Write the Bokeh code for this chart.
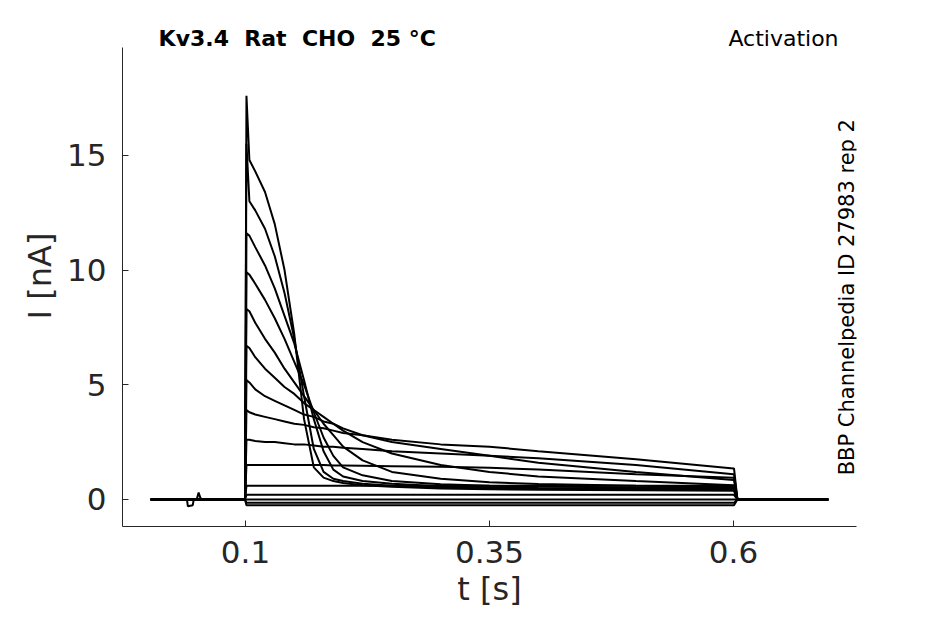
import math
from bokeh.plotting import figure
from bokeh.models import Label, FixedTicker
from bokeh.embed import file_html
from bokeh.resources import INLINE

# shared time grid of the sweeps [s]
t_grid = [0.003, 0.0995, 0.101, 0.104, 0.11, 0.12, 0.13, 0.14, 0.15, 0.16, 0.17, 0.18,
          0.19, 0.2, 0.22, 0.25, 0.3, 0.35, 0.4, 0.5, 0.6, 0.6005, 0.604, 0.697]

# holding segment with the small artefact before the step
hold_t = [0.003, 0.040, 0.041, 0.046, 0.047, 0.050, 0.052, 0.0535, 0.055, 0.0995]
hold_i = [0.0, 0.0, -0.3, -0.25, 0.0, 0.0, 0.3, 0.1, 0.0, 0.0]

# current [nA] of each sweep at t_grid
sweeps = [
    [0, 0, 17.6, 14.8, 14.3, 13.4, 12.0, 10.0, 7.2, 3.5, 1.4, 0.95, 0.8, 0.72, 0.62, 0.55, 0.48, 0.44, 0.42, 0.4, 0.38, 0.38, 0, 0],
    [0, 0, 15.5, 13.0, 12.6, 11.8, 10.6, 9.0, 7.0, 4.5, 2.2, 1.2, 0.9, 0.8, 0.68, 0.6, 0.52, 0.48, 0.46, 0.44, 0.42, 0.42, 0, 0],
    [0, 0, 11.6, 11.5, 11.0, 10.2, 9.2, 8.0, 6.8, 5.2, 3.5, 2.1, 1.3, 1.0, 0.8, 0.68, 0.58, 0.53, 0.5, 0.47, 0.45, 0.45, 0, 0],
    [0, 0, 9.9, 9.8, 9.4, 8.7, 7.9, 7.0, 6.0, 5.0, 3.8, 2.7, 1.9, 1.4, 1.05, 0.8, 0.66, 0.6, 0.56, 0.52, 0.5, 0.5, 0, 0],
    [0, 0, 8.3, 8.2, 7.7, 7.0, 6.4, 5.7, 5.1, 4.5, 3.9, 3.3, 2.8, 2.3, 1.7, 1.2, 0.9, 0.75, 0.67, 0.6, 0.55, 0.55, 0, 0],
    [0, 0, 6.7, 6.6, 6.2, 5.7, 5.3, 4.9, 4.6, 4.2, 3.9, 3.6, 3.3, 3.0, 2.5, 2.0, 1.5, 1.2, 1.0, 0.8, 0.62, 0.62, 0, 0],
    [0, 0, 5.2, 5.1, 4.8, 4.5, 4.3, 4.1, 3.9, 3.7, 3.6, 3.4, 3.3, 3.1, 2.8, 2.5, 2.2, 1.9, 1.6, 1.2, 0.85, 0.85, 0, 0],
    [0, 0, 3.9, 3.8, 3.7, 3.6, 3.5, 3.4, 3.3, 3.25, 3.15, 3.1, 3.0, 2.9, 2.8, 2.6, 2.4, 2.3, 2.1, 1.75, 1.35, 1.35, 0, 0],
    [0, 0, 2.6, 2.6, 2.55, 2.5, 2.5, 2.45, 2.4, 2.4, 2.35, 2.3, 2.3, 2.25, 2.2, 2.1, 2.0, 1.9, 1.8, 1.5, 1.1, 1.1, 0, 0],
    [0, 0, 1.5, 1.5, 1.5, 1.5, 1.5, 1.5, 1.5, 1.5, 1.5, 1.5, 1.48, 1.48, 1.47, 1.45, 1.42, 1.38, 1.3, 1.1, 0.95, 0.95, 0, 0],
    [0, 0, 0.6, 0.6, 0.6, 0.6, 0.6, 0.6, 0.6, 0.6, 0.6, 0.6, 0.6, 0.6, 0.6, 0.6, 0.6, 0.6, 0.6, 0.6, 0.6, 0.6, 0, 0],
    [0, 0, 0.2, 0.2, 0.2, 0.2, 0.2, 0.2, 0.2, 0.2, 0.2, 0.2, 0.2, 0.2, 0.2, 0.2, 0.2, 0.2, 0.2, 0.2, 0.2, 0.2, 0, 0],
    [0, 0, 0.0, 0.0, 0.0, 0.0, 0.0, 0.0, 0.0, 0.0, 0.0, 0.0, 0.0, 0.0, 0.0, 0.0, 0.0, 0.0, 0.0, 0.0, 0.0, 0.0, 0, 0],
    [0, 0, -0.15, -0.15, -0.15, -0.15, -0.15, -0.15, -0.15, -0.15, -0.15, -0.15, -0.15, -0.15, -0.15, -0.15, -0.15, -0.15, -0.15, -0.15, -0.15, -0.15, 0, 0],
    [0, 0, -0.25, -0.25, -0.25, -0.25, -0.25, -0.25, -0.25, -0.25, -0.25, -0.25, -0.25, -0.25, -0.25, -0.25, -0.25, -0.25, -0.25, -0.25, -0.25, -0.25, 0, 0],
]

x_ticks = [0.1, 0.35, 0.6]
y_ticks = [0, 5, 10, 15]
y_lo, y_hi = -1.18, 19.7

p = figure(width=935, height=616, output_backend="svg", toolbar_location=None,
           x_range=(-0.026, 0.726), y_range=(y_lo, 20.66),
           min_border_left=122, min_border_right=79, min_border_top=25, min_border_bottom=90)
p.outline_line_color = None
p.grid.visible = False

p.line(hold_t, hold_i, line_color="black", line_width=2)
for s in sweeps:
    p.line(t_grid, s, line_color="black", line_width=2)

for ax in (p.xaxis[0], p.yaxis[0]):
    ax.major_tick_in = 6
    ax.major_tick_out = 0
    ax.minor_tick_line_color = None
    ax.axis_line_color = "#262626"
    ax.major_tick_line_color = "#262626"
    ax.major_label_text_font = "DejaVu Sans"
    ax.major_label_text_font_size = "31px"
    ax.major_label_text_color = "#262626"
    ax.axis_label_text_font = "DejaVu Sans"
    ax.axis_label_text_font_size = "32px"
    ax.axis_label_text_font_style = "normal"
    ax.axis_label_text_color = "#262626"
p.yaxis.bounds = (y_lo, y_hi)
p.xaxis.ticker = FixedTicker(ticks=x_ticks)
p.yaxis.ticker = FixedTicker(ticks=y_ticks)
p.xaxis.axis_label = "t [s]"
p.yaxis.axis_label = "I [nA]"
p.xaxis.major_label_standoff = 14
p.xaxis.axis_label_standoff = 4
p.yaxis.major_label_standoff = 16

p.add_layout(Label(x=0.011, y=20.1, text="Kv3.4\u00a0\u00a0Rat\u00a0\u00a0CHO\u00a0\u00a025 °C",
                   text_font="DejaVu Sans", text_font_size="22px", text_font_style="bold",
                   text_color="black", text_baseline="alphabetic"))
p.add_layout(Label(x=0.7076, y=20.1, text="Activation",
                   text_font="DejaVu Sans", text_font_size="22px", text_align="right",
                   text_color="black", text_baseline="alphabetic"))
p.add_layout(Label(x=0.7285, y=1.05, text="BBP Channelpedia ID 27983 rep 2", angle=math.pi / 2,
                   text_font="DejaVu Sans", text_font_size="21px", text_color="black"))

open("out.html", "w").write(file_html(p, INLINE))
